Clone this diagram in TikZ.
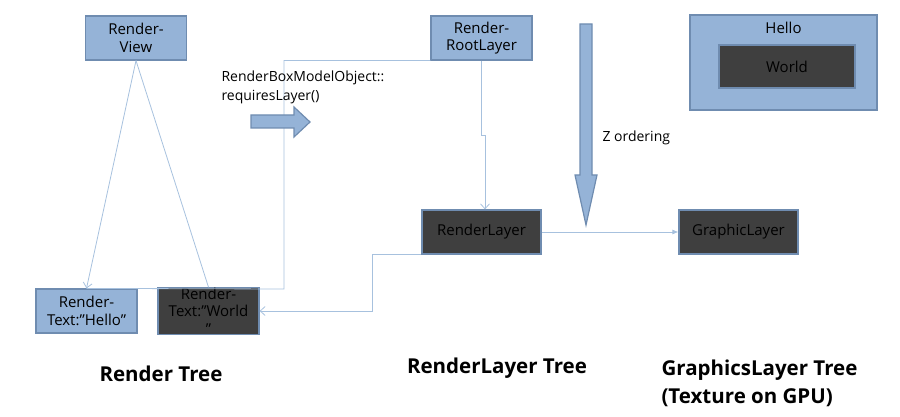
\documentclass[tikz,border=0pt]{standalone}
\usepackage{fontspec}
\setmainfont{Open Sans}
\usetikzlibrary{arrows.meta}
\definecolor{boxblue}{HTML}{95B3D7}
\definecolor{boxedge}{HTML}{6F8CB0}
\definecolor{boxdark}{HTML}{3F3F3F}
\definecolor{linkblue}{HTML}{A7C1DE}
\tikzset{
	lightbox/.style={draw=boxedge,fill=boxblue,line width=1.2pt,minimum width=101pt,minimum height=44pt,inner sep=0pt,align=center,font=\fontsize{15}{17.5}\selectfont},
	darkbox/.style={lightbox,fill=boxdark},
	link/.style={draw=linkblue,line width=0.8pt},
	barb/.style={-{Straight Barb[length=5pt,width=9pt]}},
	title/.style={font=\fontsize{20.5}{28}\selectfont\bfseries,align=left}
}
\begin{document}
\begin{tikzpicture}[x=1pt,y=-1pt]
		\useasboundingbox (0,0) rectangle (900,417);
		% boxes
		\node[lightbox] (view) at (136,38) {Render-\\View};
		\node[lightbox] (rootlayer) at (481.5,38) {Render-\\RootLayer};
		\node[lightbox] (texthello) at (86.5,311) {Render-\\Text:”Hello”};
		\node[darkbox] (textworld) at (208.5,311) {Render-\\Text:”World\\”};
		\node[darkbox,minimum width=119pt] (renderlayer) at (481.5,232) {RenderLayer};
		\node[darkbox,minimum width=119pt] (graphiclayer) at (738.5,232) {GraphicLayer};
		\node[lightbox,minimum width=187pt,minimum height=95pt,label={[anchor=north,yshift=-4pt,font=\fontsize{15}{17.5}\selectfont]north:Hello}] (hello) at (783.5,62.5) {};
		\node[darkbox,minimum width=136pt,minimum height=43pt] (world) at (787,66.5) {World};
		% connectors
		\coordinate (bend) at (284,289);
		\coordinate (jog) at (485,135);
		\coordinate (drop) at (372,311);
		\draw[link] (rootlayer.south west) -| (bend) -- (texthello.north);
		\draw[link,barb] (view.south) -- (texthello.north);
		\draw[link] (view.south) -- (textworld.north);
		\draw[link,barb] (rootlayer.south) |- (jog) -- (jog |- renderlayer.north);
		\draw[link,-{Latex[length=6pt,width=5pt]}] (renderlayer) -- (graphiclayer);
		\draw[link,barb] (renderlayer.south west) -| (drop) -- (textworld.east);
		% block arrows
		\draw[boxedge,fill=boxblue,line width=1.2pt] (251,115) -- (294,115) -- (294,107) -- (310,122) -- (294,137) -- (294,128) -- (251,128) -- cycle;
		\draw[boxedge,fill=boxblue,line width=1.2pt] (580,24) -- (592,24) -- (592,175) -- (597,175) -- (586,225) -- (575,175) -- (580,175) -- cycle;
		% labels
		\node[anchor=west,align=left,font=\fontsize{14}{19}\selectfont] (method) at (218,87) {RenderBoxModelObject::\\requiresLayer()};
		\node[anchor=west,font=\fontsize{14}{16}\selectfont] (zorder) at (599,138) {Z ordering};
		\node[title] (rendertree) at (161,374) {Render Tree};
		\node[title] (layertree) at (497,368) {RenderLayer Tree};
		\node[title,anchor=west] (gfxtree) at (658,383) {GraphicsLayer Tree\\(Texture on GPU)};
	\end{tikzpicture}
\end{document}
